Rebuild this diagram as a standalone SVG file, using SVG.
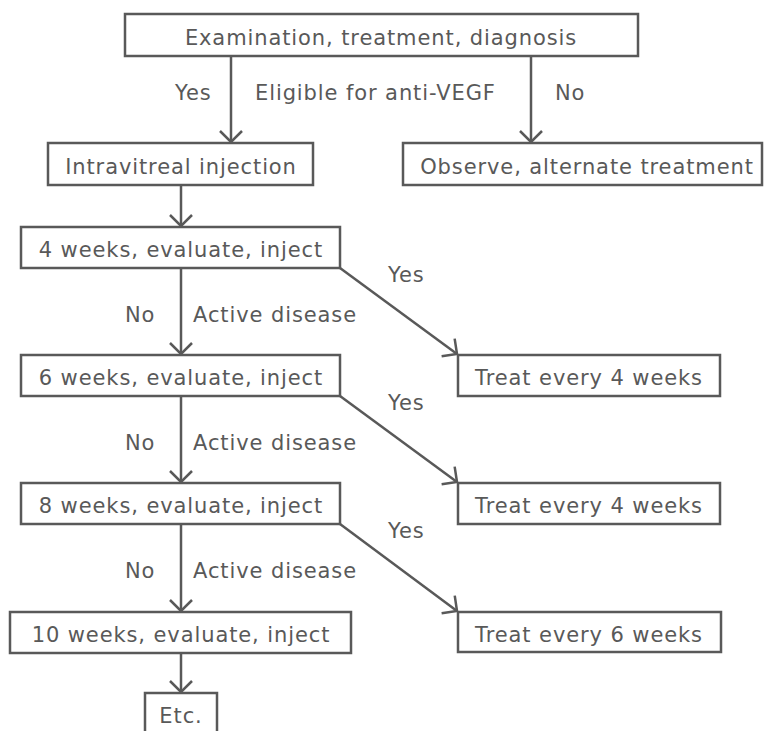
<svg xmlns="http://www.w3.org/2000/svg" width="764" height="731" viewBox="0 0 764 731">
<defs>
<style>
.box{fill:#fff;stroke:#595959;stroke-width:2.5}
.t{font-family:"DejaVu Sans","Liberation Sans",sans-serif;font-size:21px;letter-spacing:0.9px;fill:#595959}
.m{text-anchor:middle}
.c{stroke:#595959;stroke-width:2.5;fill:none}
</style>
<marker id="a" markerUnits="userSpaceOnUse" markerWidth="30" markerHeight="30" refX="0" refY="0" viewBox="-15 -15 30 30" orient="auto" overflow="visible">
<path d="M-11,-11 L0,0 L-11,11" fill="none" stroke="#595959" stroke-width="2.5"/>
</marker>
</defs>
<rect width="764" height="731" fill="#fff"/>
<g id="connectors">
<line class="c" x1="231" y1="57" x2="231" y2="142" marker-end="url(#a)"/>
<line class="c" x1="531" y1="57" x2="531" y2="142" marker-end="url(#a)"/>
<line class="c" x1="181" y1="185" x2="181" y2="226" marker-end="url(#a)"/>
<line class="c" x1="181" y1="268" x2="181" y2="354" marker-end="url(#a)"/>
<line class="c" x1="181" y1="396" x2="181" y2="482" marker-end="url(#a)"/>
<line class="c" x1="181" y1="524" x2="181" y2="611" marker-end="url(#a)"/>
<line class="c" x1="181" y1="653" x2="181" y2="692" marker-end="url(#a)"/>
<line class="c" x1="340" y1="268" x2="457" y2="354" marker-end="url(#a)"/>
<line class="c" x1="340" y1="396" x2="457" y2="482" marker-end="url(#a)"/>
<line class="c" x1="340" y1="524" x2="457" y2="611" marker-end="url(#a)"/>
<text class="t" x="175" y="100">Yes</text>
<text class="t" x="255" y="100">Eligible for anti-VEGF</text>
<text class="t" x="555" y="100">No</text>
<text class="t" x="125" y="322">No</text>
<text class="t" x="193" y="322">Active disease</text>
<text class="t" x="388" y="282">Yes</text>
<text class="t" x="125" y="450">No</text>
<text class="t" x="193" y="450">Active disease</text>
<text class="t" x="388" y="410">Yes</text>
<text class="t" x="125" y="578">No</text>
<text class="t" x="193" y="578">Active disease</text>
<text class="t" x="388" y="538">Yes</text>
</g>
<g id="n1"><rect class="box" x="125" y="14" width="513" height="42"/><text class="t m" x="381" y="45">Examination, treatment, diagnosis</text></g>
<g id="n2"><rect class="box" x="48" y="143" width="265" height="42"/><text class="t m" x="181" y="174">Intravitreal injection</text></g>
<g id="n3"><rect class="box" x="403" y="143" width="359" height="42"/><text class="t m" x="587" y="174">Observe, alternate treatment</text></g>
<g id="n4"><rect class="box" x="21" y="227" width="319" height="41"/><text class="t m" x="181" y="257">4 weeks, evaluate, inject</text></g>
<g id="n5"><rect class="box" x="21" y="355" width="319" height="41"/><text class="t m" x="181" y="385">6 weeks, evaluate, inject</text></g>
<g id="n6"><rect class="box" x="21" y="483" width="319" height="41"/><text class="t m" x="181" y="513">8 weeks, evaluate, inject</text></g>
<g id="n7"><rect class="box" x="10" y="612" width="341" height="41"/><text class="t m" x="181" y="642">10 weeks, evaluate, inject</text></g>
<g id="n8"><rect class="box" x="145" y="693" width="72" height="50"/><text class="t m" x="181" y="723">Etc.</text></g>
<g id="n9"><rect class="box" x="458" y="355" width="262" height="41"/><text class="t m" x="589" y="385">Treat every 4 weeks</text></g>
<g id="n10"><rect class="box" x="458" y="483" width="262" height="41"/><text class="t m" x="589" y="513">Treat every 4 weeks</text></g>
<g id="n11"><rect class="box" x="458" y="612" width="263" height="40"/><text class="t m" x="589" y="642">Treat every 6 weeks</text></g>
</svg>
